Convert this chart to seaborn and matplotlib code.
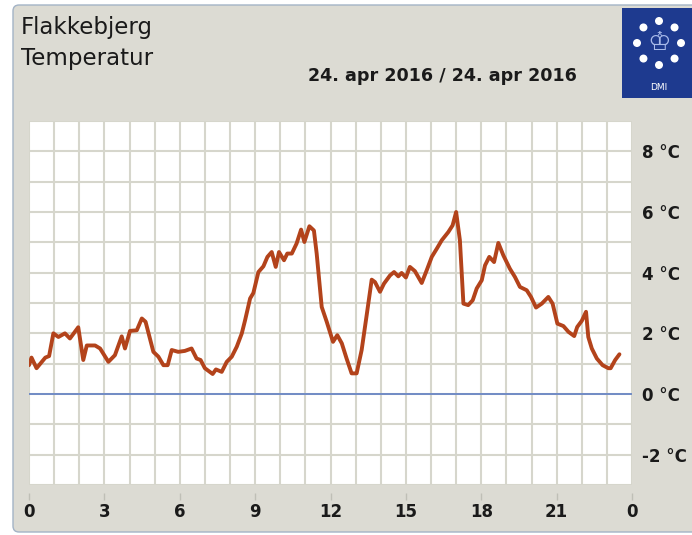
import numpy as np
import matplotlib
matplotlib.use("Agg")
import matplotlib.pyplot as plt
from matplotlib.patches import FancyBboxPatch, Rectangle, Circle
from matplotlib.transforms import IdentityTransform
import seaborn as sns

sns.set_style("white")
plt.rcParams['font.family'] = ['DejaVu Sans']

# temperature readings (hour of day, degC)
hours = [0.0, 0.1, 0.3, 0.5, 0.65, 0.8, 0.97, 1.17, 1.43, 1.63, 1.96, 2.16, 2.3, 2.63, 2.83,
         3.16, 3.42, 3.69, 3.82, 4.02, 4.29, 4.49, 4.64, 4.95, 5.15, 5.35, 5.52, 5.68, 5.94,
         6.2, 6.47, 6.67, 6.83, 7.0, 7.31, 7.44, 7.67, 7.87, 8.07, 8.27, 8.47, 8.6, 8.8, 8.93,
         9.13, 9.33, 9.49, 9.66, 9.82, 9.95, 10.15, 10.28, 10.46, 10.65, 10.83, 10.96, 11.16,
         11.34, 11.45, 11.65, 11.85, 12.1, 12.27, 12.45, 12.64, 12.84, 13.04, 13.24, 13.44,
         13.64, 13.77, 13.97, 14.13, 14.37, 14.53, 14.7, 14.83, 15.0, 15.16, 15.36, 15.63,
         15.83, 16.03, 16.23, 16.43, 16.69, 16.86, 17.0, 17.15, 17.29, 17.48, 17.66, 17.82,
         18.02, 18.15, 18.32, 18.51, 18.68, 18.88, 19.14, 19.34, 19.54, 19.81, 19.98, 20.18,
         20.41, 20.67, 20.84, 21.03, 21.27, 21.47, 21.7, 21.82, 22.0, 22.17, 22.26, 22.4,
         22.6, 22.83, 23.06, 23.15, 23.33, 23.5]
temps = [0.95, 1.2, 0.85, 1.05, 1.2, 1.25, 2.0, 1.88, 2.0, 1.83, 2.2, 1.12, 1.6, 1.6, 1.5,
         1.06, 1.28, 1.9, 1.5, 2.08, 2.1, 2.49, 2.38, 1.39, 1.23, 0.95, 0.95, 1.45, 1.39,
         1.42, 1.5, 1.17, 1.12, 0.85, 0.66, 0.81, 0.73, 1.06, 1.23, 1.56, 2.0, 2.43, 3.15, 3.33,
         4.02, 4.21, 4.52, 4.68, 4.19, 4.68, 4.41, 4.63, 4.63, 4.96, 5.42, 5.01, 5.53,
         5.39, 4.63, 2.87, 2.38, 1.72, 1.94, 1.67, 1.17, 0.68, 0.68, 1.45, 2.6,
         3.77, 3.69, 3.37, 3.64, 3.91, 4.02, 3.88, 3.99, 3.84, 4.19, 4.05, 3.66,
         4.08, 4.52, 4.79, 5.07, 5.34, 5.56, 6.0, 5.07, 2.98, 2.93, 3.09, 3.48,
         3.75, 4.24, 4.52, 4.35, 4.98, 4.57, 4.13, 3.86, 3.53, 3.42, 3.2, 2.85,
         2.98, 3.2, 2.98, 2.32, 2.24, 2.05, 1.91, 2.21, 2.41, 2.71, 1.88, 1.5,
         1.17, 0.95, 0.85, 0.85, 1.12, 1.31]

x_ticks = [0, 3, 6, 9, 12, 15, 18, 21, 24]
x_labels = ['0', '3', '6', '9', '12', '15', '18', '21', '0']
y_ticks = [-2, 0, 2, 4, 6, 8]
y_labels = ['-2 °C', '0 °C', '2 °C', '4 °C', '6 °C', '8 °C']

W, H = 692, 535
fig = plt.figure(figsize=(W / 100, H / 100), dpi=100)
fig.patch.set_facecolor('white')

# grey panel with rounded corners (pixel coordinates)
px = IdentityTransform()
panel = FancyBboxPatch((13, 3), 700, 527, boxstyle="round,pad=0,rounding_size=6",
                       facecolor='#dcdbd3', edgecolor='#a3b3c6', lw=1, transform=px, zorder=-5)
fig.add_artist(panel)

# DMI logo
fig.add_artist(Rectangle((622, H - 98), 80, 90, facecolor='#1e3a8f', edgecolor='none', transform=px))
cx, cy = 659, H - 43
for a in np.arange(0, 360, 45):
    fig.add_artist(Circle((cx + 22 * np.cos(np.radians(a)), cy + 22 * np.sin(np.radians(a))), 4,
                          facecolor='white', edgecolor='none', transform=px))
fig.text(cx / W, cy / H, '♔', color='#a9bbea', fontsize=19, ha='center', va='center')
fig.text(cx / W, (H - 88) / H, 'DMI', color='white', fontsize=6.5, ha='center', va='center')

# titles
fig.text(21 / W, (H - 34) / H, 'Flakkebjerg', fontsize=16.5, color='#1a1a1a', va='baseline')
fig.text(21 / W, (H - 65) / H, 'Temperatur', fontsize=16.5, color='#1a1a1a', va='baseline')
fig.text(442 / W, (H - 76) / H, '24. apr 2016 / 24. apr 2016', fontsize=12.6, fontweight='bold',
         color='#1a1a1a', ha='center', va='center')

ax = fig.add_axes([29 / W, 50 / H, 603 / W, 364 / H])
ax.set_zorder(2)
ax.set_facecolor('white')
ax.set_axisbelow(True)

sns.lineplot(x=hours, y=temps, ax=ax, color='#b3431b', linewidth=2.8)
ax.axhline(0, color='#5577c4', lw=1.1, zorder=1.5)

ax.set_xlim(0, 24)
ax.set_ylim(-3, 9)
ax.set_xlabel('')
ax.set_ylabel('')

ax.set_xticks(x_ticks)
ax.set_xticklabels(x_labels)
ax.set_xticks(range(25), minor=True)
ax.set_yticks(y_ticks)
ax.set_yticklabels(y_labels)
ax.set_yticks(range(-3, 10), minor=True)
ax.yaxis.tick_right()

for s in ax.spines.values():
    s.set_visible(False)
ax.spines['bottom'].set_position(('outward', 6))

ax.grid(which='both', color='#d6d6cc', lw=1.5)
ax.tick_params(which='minor', length=0)
ax.tick_params(axis='x', which='major', bottom=True, length=5, width=1, color='#bfbfb6', pad=2,
               labelsize=12, labelcolor='#1a1a1a')
ax.tick_params(axis='y', which='major', length=0, pad=7, labelsize=12, labelcolor='#1a1a1a')
for lab in ax.get_xticklabels() + ax.get_yticklabels():
    lab.set_fontweight('bold')

fig.savefig('out.png', dpi=100)
